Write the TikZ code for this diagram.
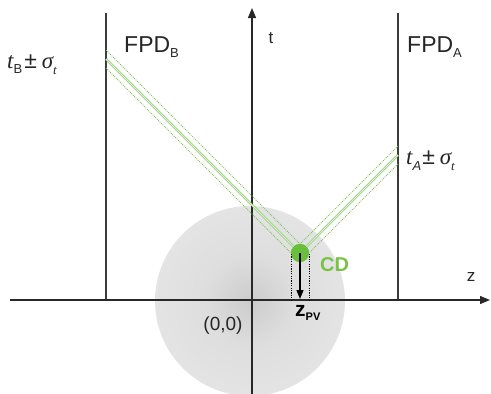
\documentclass[tikz,border=0pt]{standalone}
\usepackage{fontspec}
\setmainfont{Liberation Sans}
\newfontfamily\lsi{Liberation Serif}
\usetikzlibrary{arrows.meta}
\definecolor{axisgray}{RGB}{40,40,40}
\definecolor{fpdgray}{RGB}{60,60,60}
\definecolor{bandgreen}{RGB}{125,192,90}
\definecolor{bandlight}{RGB}{215,240,200}
\definecolor{cdgreen}{RGB}{105,190,60}
\definecolor{cdtext}{RGB}{120,195,70}
\pgfdeclareradialshading{discshade}{\pgfpoint{0bp}{0bp}}{color(0bp)=(black!20); color(12bp)=(black!13); color(40bp)=(black!8); color(47bp)=(black!8); color(50bp)=(black!5); color(51bp)=(white); color(100bp)=(white)}
\begin{document}
\begin{tikzpicture}[x=1pt,y=-1pt,
  axisline/.style={draw=axisgray, line width=1.3pt},
  fpdline/.style={draw=fpdgray, line width=1.1pt},
  bandcenter/.style={draw=bandgreen, line width=0.5pt, double=bandlight, double distance=1.4pt},
  bandedge/.style={draw=bandgreen, line width=0.9pt, dash pattern=on 0.9pt off 1.1pt},
  guide/.style={draw=black, line width=1pt, dash pattern=on 1.2pt off 1.2pt},
  lbl/.style={inner sep=0pt, text=black!85}]
\useasboundingbox (0,0) rectangle (491,394);
% coordinates
\coordinate (O) at (252,300);
\coordinate (tbot) at (252,394);
\coordinate (ttop) at (252,8);
\coordinate (zleft) at (10,300);
\coordinate (zright) at (490,300);
\coordinate (fbtop) at (106,13);
\coordinate (fbbot) at (106,300);
\coordinate (fatop) at (398,13);
\coordinate (fabot) at (398,300);
% shaded disc
\shade[shading=discshade] (250,301) circle (95);
% detector planes
\draw[fpdline] (fbtop) -- (fbbot);
\draw[fpdline] (fatop) -- (fabot);
% axes
\draw[axisline, -{Triangle[length=10pt,width=8pt]}] (zleft) -- (zright);
\draw[axisline, -{Triangle[length=10pt,width=8pt]}] (tbot) -- (ttop);
% bands
\coordinate (bc) at (106,59);
\coordinate (bu) at (106,50);
\coordinate (bl) at (106,68);
\coordinate (ac) at (398,155);
\coordinate (au) at (398,146);
\coordinate (al) at (398,164);
\coordinate (apex) at (300,244);
\coordinate (lend) at (294,256);
\coordinate (rend) at (306,256);
\node[circle, fill=cdgreen, minimum size=18pt, inner sep=0pt] (cd) at (300,253) {};
\draw[bandedge] (bu) -- (apex) -- (au);
\draw[bandedge] (bl) -- (lend);
\draw[bandedge] (al) -- (rend);
\draw[bandcenter] (bc) -- (cd.center) -- (ac);
\node[circle, fill=cdgreen, minimum size=18pt, inner sep=0pt] (cd2) at (300,253) {};
% projection
\coordinate (gl1) at (291,254);
\coordinate (gl2) at (291,300);
\coordinate (gr1) at (309,254);
\coordinate (gr2) at (309,300);
\draw[guide] (gl1) -- (gl2);
\draw[guide] (gr1) -- (gr2);
\coordinate (pv) at (300,299);
\draw[line width=1.3pt, -{Triangle[length=9pt,width=7pt]}] (cd2.center) -- (pv);
% labels
\node[lbl, font=\fontsize{17}{17}\selectfont] (tlab) at (271,38) {t};
\node[lbl, font=\fontsize{17}{17}\selectfont] (zlab) at (471,277) {z};
\node[lbl, anchor=west, font=\fontsize{23}{23}\selectfont] (fpdb) at (124,47) {FPD\raisebox{-5pt}{\fontsize{13}{13}\selectfont B}};
\node[lbl, anchor=west, font=\fontsize{23}{23}\selectfont] (fpda) at (407,47) {FPD\raisebox{-5pt}{\fontsize{13}{13}\selectfont A}};
\node[lbl, anchor=west, font=\fontsize{23}{23}\selectfont] (tb) at (7,65) {{\lsi\itshape t}\raisebox{-5pt}{\fontsize{13}{13}\selectfont B}\hspace{2pt}±\hspace{5pt}{\lsi\itshape σ}\raisebox{-6pt}{\fontsize{13}{13}\selectfont\lsi\itshape t}};
\node[lbl, anchor=west, font=\fontsize{23}{23}\selectfont] (ta) at (406,161) {{\lsi\itshape t}\raisebox{-6pt}{\fontsize{13}{13}\selectfont\itshape A}\hspace{1pt}±\hspace{5pt}{\lsi\itshape σ}\raisebox{-6pt}{\fontsize{13}{13}\selectfont\lsi\itshape t}};
\node[lbl, font=\fontsize{19}{19}\selectfont] (orig) at (223,326) {(0,0)};
\node[lbl, anchor=west, text=cdtext, font=\fontsize{20}{20}\selectfont\bfseries] (cdlab) at (320,265) {CD};
\node[lbl, anchor=west, text=black, font=\fontsize{21}{21}\selectfont\bfseries] (zpv) at (295,313) {z\raisebox{-4pt}{\fontsize{11}{11}\selectfont PV}};
\end{tikzpicture}
\end{document}
